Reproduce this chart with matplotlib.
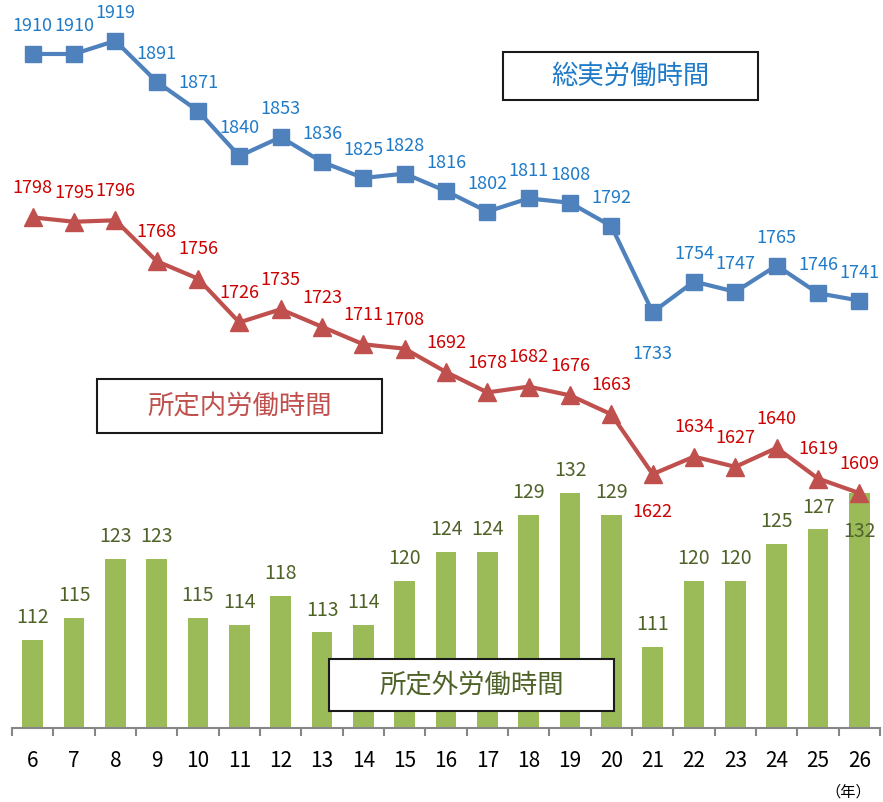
import matplotlib
matplotlib.use("Agg")
import matplotlib.pyplot as plt
from matplotlib.patches import Rectangle

plt.rcParams['font.family'] = ['Noto Sans CJK JP', 'DejaVu Sans']

# 年（平成）
jahre = [6, 7, 8, 9, 10, 11, 12, 13, 14, 15, 16, 17, 18, 19, 20, 21, 22, 23, 24, 25, 26]
# 総実労働時間
gesamt = [1910, 1910, 1919, 1891, 1871, 1840, 1853, 1836, 1825, 1828, 1816,
          1802, 1811, 1808, 1792, 1733, 1754, 1747, 1765, 1746, 1741]
# 所定内労働時間
innerhalb = [1798, 1795, 1796, 1768, 1756, 1726, 1735, 1723, 1711, 1708, 1692,
             1678, 1682, 1676, 1663, 1622, 1634, 1627, 1640, 1619, 1609]
# 所定外労働時間
ausserhalb = [112, 115, 123, 123, 115, 114, 118, 113, 114, 120, 124,
              124, 129, 132, 129, 111, 120, 120, 125, 127, 132]

W, H = 883, 802
fig = plt.figure(figsize=(W / 100, H / 100), dpi=100)
ax = fig.add_axes([12 / W, 1 - 728 / H, 868 / W, 728 / H])
ax2 = ax.twinx()

# Balken (所定外)
ax.bar(jahre, ausserhalb, width=0.5, color='#9BBB59', zorder=2)
for x, v in zip(jahre, ausserhalb):
    dy = -28 if x == 26 else 16
    ax.annotate(str(v), (x, v), xytext=(0, dy), textcoords='offset points',
                ha='center', va='center', fontsize=14, color='#4F6228', zorder=5)
ax.set_ylim(100, 199)
ax.set_xlim(5.5, 26.5)

# Linien
ax2.plot(jahre, gesamt, color='#4F81BD', lw=3, marker='s', markersize=11, zorder=3)
ax2.plot(jahre, innerhalb, color='#C0504D', lw=3, marker='^', markersize=13, zorder=3)
for x, v in zip(jahre, gesamt):
    dy = -30 if x == 21 else 20
    ax2.annotate(str(v), (x, v), xytext=(0, dy), textcoords='offset points',
                 ha='center', va='center', fontsize=13, color='#1F7BC8', clip_on=False)
for x, v in zip(jahre, innerhalb):
    dy = -27 if x == 21 else 21
    ax2.annotate(str(v), (x, v), xytext=(0, dy), textcoords='offset points',
                 ha='center', va='center', fontsize=13, color='#CC0000', clip_on=False)
ax2.set_ylim(1448, 1947)

# Achsen
for a in (ax, ax2):
    for s in ['top', 'left', 'right']:
        a.spines[s].set_visible(False)
    a.set_yticks([])
ax2.spines['bottom'].set_visible(False)
ax.spines['bottom'].set_color('#868686')
ax.spines['bottom'].set_linewidth(1.5)
ax.set_xticks(jahre)
ax.set_xticklabels([str(j) for j in jahre], fontsize=15)
ax.tick_params(axis='x', which='major', length=0, pad=16)
ax.set_xticks([j + 0.5 for j in [5] + jahre], minor=True)
ax.tick_params(axis='x', which='minor', length=6, width=1.5, color='#868686')

fig.text(848 / W, 1 - 792 / H, '（年）', ha='center', va='center', fontsize=11)


def kasten(x0, y0, x1, y1, text, farbe):
    fig.patches.append(Rectangle((x0 / W, 1 - y1 / H), (x1 - x0) / W, (y1 - y0) / H,
                                 transform=fig.transFigure, facecolor='white',
                                 edgecolor='#1A1A1A', lw=1.5, zorder=5))
    fig.text((x0 + x1) / 2 / W, 1 - (y0 + y1) / 2 / H, text, ha='center', va='center',
             fontsize=19, color=farbe, zorder=6)


kasten(503, 52, 758, 100, '総実労働時間', '#1F7BC8')
kasten(97, 379, 382, 433, '所定内労働時間', '#C0504D')
kasten(329, 659, 614, 711, '所定外労働時間', '#4F6228')

fig.savefig('out.png', dpi=100)
